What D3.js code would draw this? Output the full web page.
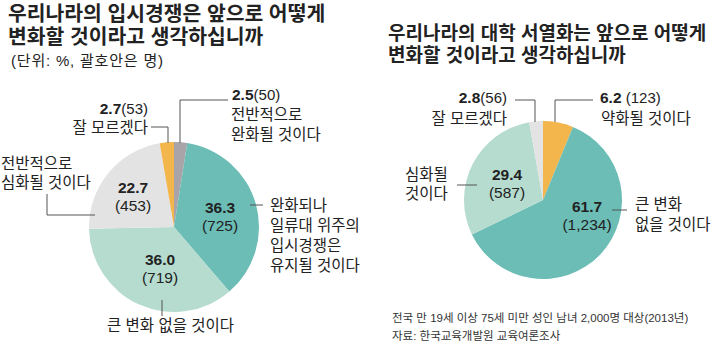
<!DOCTYPE html>
<html>
<head>
<meta charset="utf-8">
<script src="https://cdn.jsdelivr.net/npm/d3@7/dist/d3.min.js"></script>
<style>
  html, body { margin: 0; padding: 0; background: #fff; }
  svg { display: block; font-family: "Liberation Sans", "Noto Sans CJK KR", sans-serif; }
</style>
</head>
<body>
<svg id="chart" width="720" height="345"></svg>
<script>
// 입시경쟁 전망 (단위: %, 괄호안은 명)
const examCategories = ["전반적으로 완화될 것이다", "완화되나 일류대 위주의 입시경쟁은 유지될 것이다", "큰 변화 없을 것이다", "전반적으로 심화될 것이다", "잘 모르겠다"];
const examPercents = [2.5, 36.3, 36.0, 22.7, 2.7];
const examCounts = [50, 725, 719, 453, 53];

// 대학 서열화 전망
const rankCategories = ["약화될 것이다", "큰 변화 없을 것이다", "심화될 것이다", "잘 모르겠다"];
const rankPercents = [6.2, 61.7, 29.4, 2.8];
const rankCounts = [123, 1234, 587, 56];

const examColors = ["#a8a4a8", "#6bbdb6", "#b5dccf", "#e3e3e3", "#f3b64c"];
const rankColors = ["#f3b64c", "#6bbdb6", "#b5dccf", "#e3e3e3"];

const svg = d3.select("#chart");
const fmtCount = d3.format(",");
const ink = "#222";
const leaderColor = "#555";
const labelSize = 15.5;

function title(lines, x, y0, size, lh) {
  lines.forEach((s, i) => {
    svg.append("text")
      .attr("x", x).attr("y", y0 + i * lh)
      .attr("font-size", size).attr("font-weight", 700).attr("fill", ink)
      .text(s);
  });
}

function drawPie(cx, cy, r, percents, colors) {
  const pie = d3.pie().sort(null).value(d => d);
  const arc = d3.arc().innerRadius(0).outerRadius(r);
  const g = svg.append("g").attr("transform", `translate(${cx},${cy})`);
  g.selectAll("path").data(pie(percents)).join("path")
    .attr("d", arc).attr("fill", (d, i) => colors[i]);
  return g;
}

// bold percent with the head count in parentheses (beside it or on the next line)
function valueLabel(x, y, pct, count, inline, anchor, space) {
  const t = svg.append("text").attr("x", x).attr("y", y)
    .attr("text-anchor", anchor).attr("fill", ink).attr("font-size", 15.5);
  t.append("tspan").attr("font-weight", 700).text(pct.toFixed(1));
  if (inline) {
    t.append("tspan").attr("font-size", 15).text((space ? " " : "") + "(" + fmtCount(count) + ")");
  } else {
    t.append("tspan").attr("x", x).attr("dy", 18).attr("font-size", 15.5)
      .text("(" + fmtCount(count) + ")");
  }
}

function textLines(x, y, lines, anchor, lh) {
  const t = svg.append("text").attr("x", x).attr("y", y)
    .attr("text-anchor", anchor || "start").attr("fill", ink).attr("font-size", labelSize);
  lines.forEach((s, i) => {
    t.append("tspan").attr("x", x).attr("dy", i === 0 ? 0 : (lh || 20)).text(s);
  });
}

function leader(points) {
  svg.append("path").attr("d", d3.line()(points))
    .attr("fill", "none").attr("stroke", leaderColor).attr("stroke-width", 1);
}

// ---------- 입시경쟁 ----------
title(["우리나라의 입시경쟁은 앞으로 어떻게", "변화할 것이라고 생각하십니까"], 8, 21, 20.4, 23);
svg.append("text").attr("x", 11).attr("y", 66).attr("font-size", 15).attr("fill", ink)
  .attr("textLength", 152).attr("lengthAdjust", "spacing")
  .text("(단위: %, 괄호안은 명)");

drawPie(174, 227, 85, examPercents, examColors);

// 전반적으로 완화
leader([[180, 143], [180, 100], [228, 100]]);
valueLabel(232, 100, examPercents[0], examCounts[0], true, "start", false);
textLines(231, 120, ["전반적으로", "완화될 것이다"], "start", 20);

// 잘 모르겠다
leader([[151, 127], [168, 127], [168, 143]]);
valueLabel(148, 114, examPercents[4], examCounts[4], true, "end", false);
textLines(148, 133, ["잘 모르겠다"], "end");

// 전반적으로 심화
textLines(1, 169, ["전반적으로", "심화될 것이다"], "start", 19);
leader([[47, 194], [47, 215], [95, 215]]);
valueLabel(133, 193, examPercents[3], examCounts[3], false, "middle");

// 완화되나 일류대 위주
valueLabel(220, 213, examPercents[1], examCounts[1], false, "middle");
leader([[250, 205], [263, 205]]);
textLines(270, 211, ["완화되나", "일류대 위주의", "입시경쟁은", "유지될 것이다"], "start", 20);

// 큰 변화 없을 것이다
valueLabel(160, 265, examPercents[2], examCounts[2], false, "middle");
leader([[162, 300], [162, 316]]);
textLines(107, 331, ["큰 변화 없을 것이다"], "start");

// ---------- 대학 서열화 ----------
title(["우리나라의 대학 서열화는 앞으로 어떻게", "변화할 것이라고 생각하십니까"], 388, 40, 19, 22);

drawPie(543, 200, 79, rankPercents, rankColors);

// 잘 모르겠다
leader([[515, 100], [535, 100], [535, 122]]);
valueLabel(507, 103, rankPercents[3], rankCounts[3], true, "end", false);
textLines(507, 124, ["잘 모르겠다"], "end");

// 약화될 것이다
leader([[555, 122], [555, 100], [593, 100]]);
valueLabel(600, 103, rankPercents[0], rankCounts[0], true, "start", true);
textLines(601, 124, ["약화될 것이다"], "start");

// 심화될 것이다
textLines(405, 180, ["심화될", "것이다"], "start", 19);
leader([[457, 185], [477, 185]]);
valueLabel(507, 180, rankPercents[2], rankCounts[2], false, "middle");

// 큰 변화 없을 것이다
valueLabel(587, 212, rankPercents[1], rankCounts[1], false, "middle");
leader([[612, 210], [627, 210]]);
textLines(635, 210, ["큰 변화", "없을 것이다"], "start", 20);

// 출처
svg.append("text").attr("x", 392).attr("y", 322).attr("font-size", 11.5).attr("fill", "#333")
  .text("전국 만 19세 이상 75세 미만 성인 남녀 2,000명 대상(2013년)");
svg.append("text").attr("x", 392).attr("y", 340).attr("font-size", 11.5).attr("fill", "#333")
  .text("자료: 한국교육개발원 교육여론조사");
</script>
</body>
</html>
